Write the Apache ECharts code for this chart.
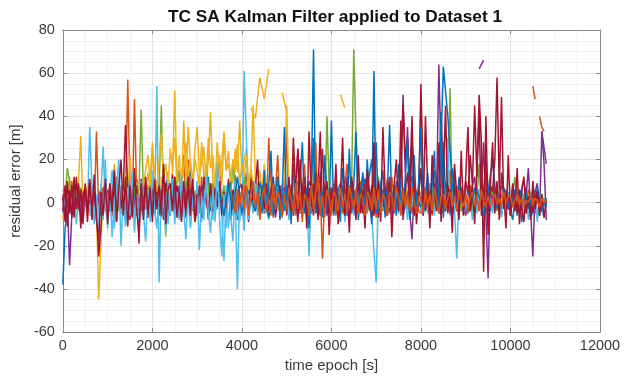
<!DOCTYPE html>
<html><head><meta charset="utf-8">
<script src="https://cdn.jsdelivr.net/npm/echarts@6/dist/echarts.min.js"></script>
<style>html,body{margin:0;padding:0;background:#fff}#c{width:624px;height:378px}</style>
</head><body><div id="c"></div>
<script>
// ---- tick labels ----
const xTicks = [0, 2000, 4000, 6000, 8000, 10000, 12000];
const yTicks = [-60, -40, -20, 0, 20, 40, 60, 80];

// ---- series values; rows are 1000 s, one value every 50 s ----
const blue1 = [
 -38, -12, -4, 3, -6, 5, -2, 4, -7, 2, 6, -3, 1, -5, 8, -2, 3, -6, 4, -1,
 5, -4, 2, 7, -3, 6, -5, 1, 9, -2, 4, -6, 3, 11, -4, 2, 6, -3, 5, -7,
 3, -5, 8, -2, 4, -1, 6, 14, -3, 2, -6, 5, -4, 7, 1, -3, 9, 16, -2, 4,
 -5, 6, 2, -3, 8, 12, -4, 3, -6, 5, 1, -2, 7, -5, 4, 10, -3, 6, -8, 2,
 4, -3, 6, -5, 2, 9, -2, 5, -6, 3, 8, -4, 1, 6, -3, 4, 12, -2, 5, -4,
 3, -6, 7, -2, 4, 10, -5, 2, 6, -3, 1, 8, 71, -4, 3, -6, 5, 2, -3, 7,
 -2, 4, -5, 6, 9, -3, 2, -6, 5, 3, -4, 7, 1, -2, 14, 5, -3, 6, -4, 61,
 -6, 3, 5, -2, 7, -4, 2, 6, -3, 10, 4, -5, 2, 8, -3, 5, -1, 4, -6, 3,
 5, -2, 3, 7, -4, 2, 9, -3, 4, -5, 28, 3, -2, 6, -4, 5, 2, -6, 3, -1,
 4, -5, 2, 6, -3, 8, -2, 4, -6, 3, 1, -4, 7, 2, -3, 5, -5, 3, 6, -2,
 -4, -8, 2, -6, 3, -9, 1, -5, 4, -7, 2, -3, -6, 1, -4, 2, -2];
const orange1 = [
 4, -7, 8, -3, 10, -5, 6, -2, 3, -8, 5, -4, 9, 2, -6, 33, -3, 7, -5, 4,
 -3, 9, -6, 4, 12, -2, 7, -5, 3, 57, 6, -4, 48, 2, -7, 5, 10, -3, 8, -5,
 -4, 6, -2, 9, -6, 15, 3, -5, 8, -3, 12, 4, -7, 5, 22, -2, 20, 6, -4, 3,
 7, -5, 12, -3, 6, -8, 9, 2, -4, 10, 18, -3, 5, -6, 8, 2, -5, 13, 4, -2,
 -6, 5, 14, -3, 8, -2, 4, 9, -5, 6, 12, -4, 30, 4, -7, 6, 22, -3, 8, 2,
 33, -4, 8, 3, -6, 25, -5, 7, 18, -3, 5, -2, 12, 28, -4, 6, -26, 5, 9, -3,
 -2, 9, -6, 4, 2, -5, 8, 18, -3, 6, -4, 5, -5, 10, 2, -6, 7, 3, -4, 8,
 -7, 5, 3, -4, 6, 2, -5, 12, -2, 7, 4, -6, 3, 8, -3, 5, -5, 2, 6, -4,
 -5, 7, 2, -3, 9, -6, 4, 3, -5, 8, 2, -4, 6, 15, -3, 5, -4, 7, 2, -6,
 3, -5, 8, -2, 5, 1, -4, 12, 3, -5, 6, 2, -3, 7, -2, 4, -6, 3, 5, -2,
 -3, 5, -2, 4, 2, -4, 3, -1, 6, -2, 3, -5, 2, 4, -3, 1, 2];
const yellow1 = [
 -8, 5, 3, 12, -4, 6, 2, 10, 31, -3, 8, 4, -6, 2, 9, -2, -45, -20, 6, 3,
 4, -3, 8, 18, -2, 6, 3, -5, 14, 2, 22, 5, -3, 9, 4, -6, 10, 2, 14, 5,
 25, 8, 4, -4, 12, 6, -16, 9, 3, 15, 52, 8, 12, 5, 38, 10, 35, 18, 6, 20,
 15, 8, 28, 12, 6, 20, 42, 10, 5, 18, 22, 8, 30, 15, 18, 10, 9, 25, 14, 38,
 12, 20, 25, 8, 15, 45, 10, 6, 15, 5, 18, 8, 3, 10, 8, 2, -4, 6, 3, 12,
 45, 6, -3, 8, 12, 4, 2, -5, 8, 3, 2, 6, -3, 9, 4, -2, 6, 3, -1, 5,
 3, -4, 8, 2, -5, 6, 1, 4, -3, 5, -2, 7, 2, -4, 5, 3, -1, 6, 2, -3,
 4, -2, 6, -3, 5, 2, -4, 7, 1, -3, 5, 2, -2, 6, 3, -4, 4, 1, -3, 5,
 5, -2, 3, 6, -4, 2, 8, -3, 4, 1, 6, -2, 3, 5, -3, 2, 7, -1, 4, 2,
 -2, 5, 3, -3, 6, 2, -4, 4, 7, 1, -2, 5, 3, -1, 6, 2, -3, 4, 1, 3,
 3, -2, 5, 1, -3, 4, 2, -1, 3, 5, -2, 2, 4, -1, 3, 1, 2];
const purple1 = [
 3, -5, 2, -29, -6, 6, -3, 8, -6, 2, 5, -4, 7, -2, 4, -8, 3, 6, -5, 2,
 6, -2, 4, -7, 3, 8, -4, 2, -5, 6, -3, 5, 9, -6, 2, -4, 7, 3, -5, 4,
 -3, 7, 2, -6, 4, -2, 9, -5, 3, 6, -4, 2, 8, -3, 5, -7, 3, 6, -2, 4,
 -4, 2, 8, -3, 5, -7, 3, 6, -2, 4, 7, -3, 2, -6, 9, 3, -4, 5, -2, 8,
 7, -3, 2, -6, 9, 3, -4, 5, -2, 8, -5, 3, 6, -2, 4, -7, 2, 5, -3, 7,
 -5, 3, 6, -2, 4, -7, 2, 5, -3, 7, 3, -5, 8, -2, 4, 6, -3, 9, -6, 2,
 3, -5, 8, -2, 4, 6, -3, 9, -6, 2, 5, -3, 7, -2, 4, -6, 12, -4, 6, 3,
 5, -3, 7, -2, 4, -6, 9, 3, -5, 6, 2, 8, 50, 14, 35, -4, -17, 6, 3, -2,
 3, -4, 7, 2, -5, 6, -2, 4, 64, 20, -5, 8, -2, 4, -6, 5, 3, -4, 7, 2,
 -6, 5, 2, 8, 12, -3, 6, 4, 28, -5, -35, 8, 2, -4, 6, 3, -5, 7, 2, -3,
 -3, 7, 2, -5, 4, 6, -2, 3, 16, -4, -25, 5, 9, -6, 33, 18, -8];
const green1 = [
 6, 3, 16, 10, -3, 5, 2, -4, 7, 1, -2, 4, 8, -3, 6, 2, -5, 3, 7, -2,
 4, -3, 6, 9, 2, -4, 8, 3, -2, 5, 1, -4, 7, 2, 6, 43, 3, -2, 5, 8,
 5, 12, -3, 6, 45, -3, 8, 2, 4, -4, 6, 10, 15, -4, 6, 10, 3, -2, 7, 4,
 3, -5, 4, 6, 18, 6, -2, 9, 4, -3, 5, 2, 8, -4, 6, 3, 20, 7, -2, 5,
 -2, 12, 5, -4, 8, 3, -3, 6, 10, 2, 4, -5, 7, 3, -2, 9, 5, -3, 6, 4,
 -4, 7, 3, -2, 9, 5, 2, -3, 6, 4, -2, 8, 20, -3, 6, 5, 2, -4, 40, 7,
 4, -3, 8, 2, 6, -2, 5, 3, -4, 7, 71, 30, 4, -2, 7, 3, -5, 6, 2, 4,
 3, 12, -4, 6, 2, -3, 9, 4, -2, 5, 3, -4, 7, 2, -3, 6, 4, -2, 5, 3,
 50, 3, -4, 7, 2, 6, -3, 5, 4, -2, 8, 3, 6, 53, -3, 5, 8, 2, -4, 6,
 -2, 6, 3, -4, 5, 2, 18, -3, 5, 2, -3, 7, 4, 2, -4, 6, 3, -2, 5, 1,
 2, 4, 12, -3, 5, 1, 4, -2, 3, 1, 5, -2, 3, 2, 4, -1, 2];
const cyan1 = [
 -5, 4, -8, 3, -2, 6, -10, 2, 5, -6, 3, -4, 35, 8, -7, 2, -5, 4, 26, -3,
 -8, 4, 15, -12, 6, 20, -5, 3, -10, 10, -6, 8, -14, 4, -3, 6, -8, 2, 5, -4,
 5, -6, 54, -37, 8, -6, 3, -10, 4, -3, 7, -5, 2, -8, 6, -4, 3, -12, 5, -2,
 -6, 4, -9, 2, 6, -5, 3, -8, 4, -3, 7, -6, -27, 8, -12, 4, -6, 2, -40, 5,
 -4, 61, 30, -8, 5, -3, 10, -6, 2, 7, -4, 6, -8, 3, -5, 9, -2, 4, -6, 3,
 6, -8, 3, -5, 9, -4, 2, -6, 7, 3, -25, 4, -3, 7, -6, 2, 5, -4, 8, -5,
 3, -5, 8, -4, 2, 6, -9, 4, -3, 5, -6, 2, 7, -4, 3, -8, 5, 2, -6, -23,
 -37, 5, -6, 3, 8, -4, 2, -7, 5, 3, -5, 6, -3, 2, -8, 4, -2, 6, -4, 3,
 -4, 6, 2, -5, 9, 3, -6, 4, -3, 7, -5, 2, 30, -6, 4, -3, -26, 4, 2, -5,
 -3, 7, 2, -8, 4, -5, 6, 2, -4, 8, -6, 3, -5, 7, -2, 4, -7, 3, -3, 5,
 -6, 3, -4, 7, -2, 5, -5, 4, -8, 3, -6, 2, -9, 4, -3, -7, 2];
const darkred1 = [
 2, -9, 10, -5, 8, -7, 12, -3, 6, -10, 9, -4, 11, -8, 5, -2, -25, -12, 6, 9,
 -6, 9, -4, 14, -8, 10, -3, 7, 36, 5, -8, 12, -5, 8, -19, 11, -3, 9, -7, 6,
 7, -5, 10, -2, 6, -8, 9, 4, -6, 13, -4, 8, -7, 10, 3, -5, 12, -2, 6, -9,
 -3, 8, -7, 12, 2, -5, 9, -4, 7, -2, 10, -6, 5, -3, 11, -8, 6, 3, -5, 9,
 8, -6, 4, -9, 15, -2, 6, 20, -5, 7, -3, 9, -4, 6, 12, -5, 3, 8, -6, 4,
 -4, 10, 3, -6, 8, 25, -3, 6, 12, -5, 7, -2, 9, -4, 5, 33, -6, 8, 3, -5,
 7, -3, 10, -6, 4, 8, -5, 12, 3, -4, 6, -7, 9, 2, -5, 11, 4, -3, 8, -6,
 6, -7, 9, 2, -5, 11, 4, -3, 8, -2, 5, 14, 45, 20, 30, 8, 40, -6, 5, 3,
 55, 8, -4, 6, 3, -5, 9, 2, -3, 42, 6, -4, 8, 2, -5, 7, 3, -2, 6, -4,
 10, 4, 22, 8, 45, 12, 50, 28, -32, 40, -4, 8, 5, 20, 58, 6, 49, -3, 5, 2,
 -6, 8, 3, -4, 6, -2, -9, 4, -1, 3, -5, 2, 6, -3, 4, -7, 1];
// from 3500 s, every 100 s
const blue2 = [
 4, -6, 8, -3, 12,
 -5, 7, 2, -4, 9, 3, -7, 5, 2, -3,
 8, -4, 6, 2, -5, 10, 3, -6, 4, 7,
 -3, 5, 2, -6, 8, 4, -2, 12, 6, 20,
 -5, 3, 7, -4, 2, 9, -6, 4, 12, 3,
 -2, 6, 4, 15, -5, 63, 40, 8, -3, 5,
 2, -4, 7, 3, -6, 5, 20, -3, 8, 4,
 -5, 6, 2, 10, -3, 4, 7, -4, 2];
// from 4400 s, every 50 s
const blue3 = [
 3, -5, 15, -4, 8, 24, -6, 5, 12, -8, 4, 35, -3, 7, -10, 18, 2, -6, 10, 28,
 -4, 6, -12, 9, 30, -5, 4, 14, -7, 22, 5, -3, 38, -6, 8, 3, -9, 16, 6, -4,
 25, -5, 9, 33, -8, 4, 12, -6, 20, 3, -10, 7, 28, -4, 9, 15, -7, 5, 36, -3,
 8, -6, 18, 4, -5, 12, 30, -8, 6, 22, -4, 10, 35, -6, 3, 14, -5, 8, 24, -3,
 6, 42, -7, 10, 4, -5, 16, 8, -4, 12, 2];
// from 5000 s, every 50 s
const darkred3 = [
 -6, 12, -4, 30, 5, -9, 20, -3, 8, -12, 33, 4, -6, 14, -8, 6, 25, -5, 10, -15,
 7, -4, 18, -10, 4, 30, -6, 9, -14, 12, 3, -8, 22, -5, 6, -12, 15, 4, -7, 28,
 -3, 10, -9, 35, 5, -6, 12, -16, 8, 20, -4, 38, -8, 6, 14, -5, 30, 9, -10, 4,
 16, -6, 40, 8, -12, 22, 5, -4, 28, -9, 10, 45, -5, 6, -14, 18, 3, -8, 24, -6,
 12, 35, -4, 8, -10, 15, 40, -6, 5, 20, -15, 8, 28, -5, 10, -8, 14, 4, -12, 22,
 -6, 9, -4, 16, -10, 6, 12, -5, 3, -8, 10, -3, 5, -6, 2];
// from 3800 s, every 50 s
const orange2 = [
 3, -5, 6, -2,
 6, -3, 8, -6, 4, 10, -2, 5, -8, 3, 7, -4, 2, -6, 9, -3, 5, 1, -7, 4,
 -4, 7, 2, -5, 9, -3, 5, -9, 4, 2, -6, 8, -3, 5, 12, -4, 3, -7, 6, 2,
 -6, 5, 3, -4, 7, -2, 4, -5, 8, 2, -3, 6, -5, 4, 2, -6, 5, 3, -4, 7,
 -3, 6, -5, 4, 2, -6, 5, 3, -4, 7, 2, -5, 6, -2, 4, -4, 7, 1, -5, 3,
 2, -5, 6, -2, 4, -4, 7, 1, -5, 3, 4, -3, 2, 5, -2, 3, -4, 6, 1, -2,
 4, -3, 2, 5, -2, 3, -4, 6, 1, -2, 3, -2, 1, 4, -1, 2, -2, 5, 0, 3,
 3, -2, 1, 4, -1, 2, -2, 1, 0, 3, -1, 2, 1, -2, 2, 0, 1];
// from 4200 s, every 100 s (intermittent)
const yellow2 = [44, 39, 58, 48, 62, null, null, 51, 42, null, null, null, null, null, null, null, null, null, null, null, 50, 44];
// from 10500 s, every 50 s
const orange3 = [54, 48, null, 40, 35, 33];
// from 9300 s, every 100 s (intermittent)
const purple2 = [62, 66, null, null, null, null, null, null, null, null, null, null, null, null, 33, 18];
// from 1800 s, every 50 s
const yellow3 = [
 8, 15, 22, 10, 28, 14, 5, 20, 32, 12, 18, 8, 25, 15, 30, 10, 22, 6, 16, 28,
 12, 20, 9, 24, 35, 14, 18, 26, 10, 30, 16, 22, 8, 28, 12, 19, 33, 15, 24, 10,
 20, 14, 27, 8, 18, 12, 22, 6, 15, 9, 4];
// from 600 s, every 50 s
const cyan2 = [
 -6, 8, -10, 4, -14, 9, -8, 20, -12, 6, -16, 3, -9, 12, -20, 5, -11, 7, -6, 14,
 -8, 4, -13, 10, -5, -18, 6, -9, 15, -4, -12, 8, -7, 3, -15, 9, -6, 11, -10, 5,
 -8, 13, -4, -17, 7, -11, 4, -6, 10, -22, 3, -8, 12, -5, -14, 6, -9, 18, -7, -25,
 4, -12, 8, -6, -18, 10, -4, -9, 5, -13, 7, -8, 3, -5, 9, -3, 4];
// from 0 s, every 50 s
const darkred2 = [
 -4, 8, -11, 6, -7, 12, -3, 9, -12, 4, 7, -9, 10, -5, 13, -8, -18, 5, -6, 11,
 -10, 6, -4, 15, -9, 7, 20, -6, 12, -11, 8, -7, 16, -4, -14, 9, -8, 12, -5, 7,
 -9, 11, -3, 8, -6, 18, -10, 6, 9, -4, 12, -7, 5, -9, 10, -3, 7, -6, 11, -8, 4];

const COLORS = {blue:'#0072BD', orange:'#D95319', yellow:'#EDB120', purple:'#7E2F8E', green:'#77AC30', cyan:'#4DBEEE', darkred:'#A2142F'};

function pts(start, step, vals) { return vals.map((v, i) => [start + i * step, v]); }

const defs = [
  [blue1, 0, 50, COLORS.blue],
  [orange1, 0, 50, COLORS.orange],
  [yellow1, 0, 50, COLORS.yellow],
  [purple1, 0, 50, COLORS.purple],
  [green1, 0, 50, COLORS.green],
  [cyan1, 0, 50, COLORS.cyan],
  [darkred1, 0, 50, COLORS.darkred],
  [yellow3, 1800, 50, COLORS.yellow],
  [cyan2, 600, 50, COLORS.cyan],
  [blue2, 3500, 100, COLORS.blue],
  [blue3, 4400, 50, COLORS.blue],
  [darkred3, 5000, 50, COLORS.darkred],
  [orange2, 3800, 50, COLORS.orange],
  [yellow2, 4200, 100, COLORS.yellow],
  [orange3, 10500, 50, COLORS.orange],
  [purple2, 9300, 100, COLORS.purple],
  [darkred2, 0, 50, COLORS.darkred]
];

const series = defs.map(d => ({
  type: 'line', data: pts(d[1], d[2], d[0]), showSymbol: false, connectNulls: false,
  lineStyle: {width: 1.5, color: d[3]}, itemStyle: {color: d[3]}, animation: false, silent: true
}));

const axisCol = '#8a8a8a';
const lab = {color: '#3a3a3a', fontSize: 14.5, fontFamily: 'Liberation Sans'};
const chart = echarts.init(document.getElementById('c'), null, {renderer: 'canvas'});
chart.setOption({
  animation: false,
  backgroundColor: '#fff',
  title: {text: 'TC SA Kalman Filter applied to Dataset 1', left: 330, top: 4, textAlign: 'center',
    textStyle: {fontSize: 17.3, fontWeight: 'bold', color: '#111', fontFamily: 'Liberation Sans'}},
  grid: {left: 61, right: 24, top: 30, bottom: 39},
  xAxis: [
    {type: 'value', min: xTicks[0], max: xTicks[xTicks.length - 1], interval: 2000,
     name: 'time epoch [s]', nameLocation: 'middle', nameGap: 22,
     nameTextStyle: {color: '#3a3a3a', fontSize: 15, fontFamily: 'Liberation Sans'},
     axisLine: {onZero: false, lineStyle: {color: axisCol}}, axisTick: {inside: true, length: 4, lineStyle: {color: axisCol}},
     axisLabel: Object.assign({margin: 6, formatter: v => String(v)}, lab),
     splitLine: {show: true, lineStyle: {color: '#e4e4e4'}},
     minorTick: {show: false, splitNumber: 4},
     minorSplitLine: {show: true, lineStyle: {color: '#f1f1f1'}}},
    {type: 'value', position: 'top', min: xTicks[0], max: xTicks[xTicks.length - 1], interval: 2000,
     axisLine: {onZero: false, lineStyle: {color: axisCol}}, axisTick: {inside: true, length: 4, lineStyle: {color: axisCol}},
     axisLabel: {show: false}, splitLine: {show: false}}
  ],
  yAxis: [
    {type: 'value', min: yTicks[0], max: yTicks[yTicks.length - 1], interval: 20,
     name: 'residual error [m]', nameLocation: 'middle', nameGap: 34, nameRotate: 90,
     nameTextStyle: {color: '#3a3a3a', fontSize: 15, fontFamily: 'Liberation Sans'},
     axisLine: {show: true, onZero: false, lineStyle: {color: axisCol}}, axisTick: {show: true, inside: true, length: 4, lineStyle: {color: axisCol}},
     axisLabel: Object.assign({margin: 8}, lab),
     splitLine: {show: true, lineStyle: {color: '#e4e4e4'}},
     minorTick: {show: false, splitNumber: 4},
     minorSplitLine: {show: true, lineStyle: {color: '#f1f1f1'}}},
    {type: 'value', position: 'right', min: yTicks[0], max: yTicks[yTicks.length - 1], interval: 20,
     axisLine: {show: true, onZero: false, lineStyle: {color: axisCol}}, axisTick: {show: true, inside: true, length: 4, lineStyle: {color: axisCol}},
     axisLabel: {show: false}, splitLine: {show: false}}
  ],
  series: series
});
</script></body></html>
